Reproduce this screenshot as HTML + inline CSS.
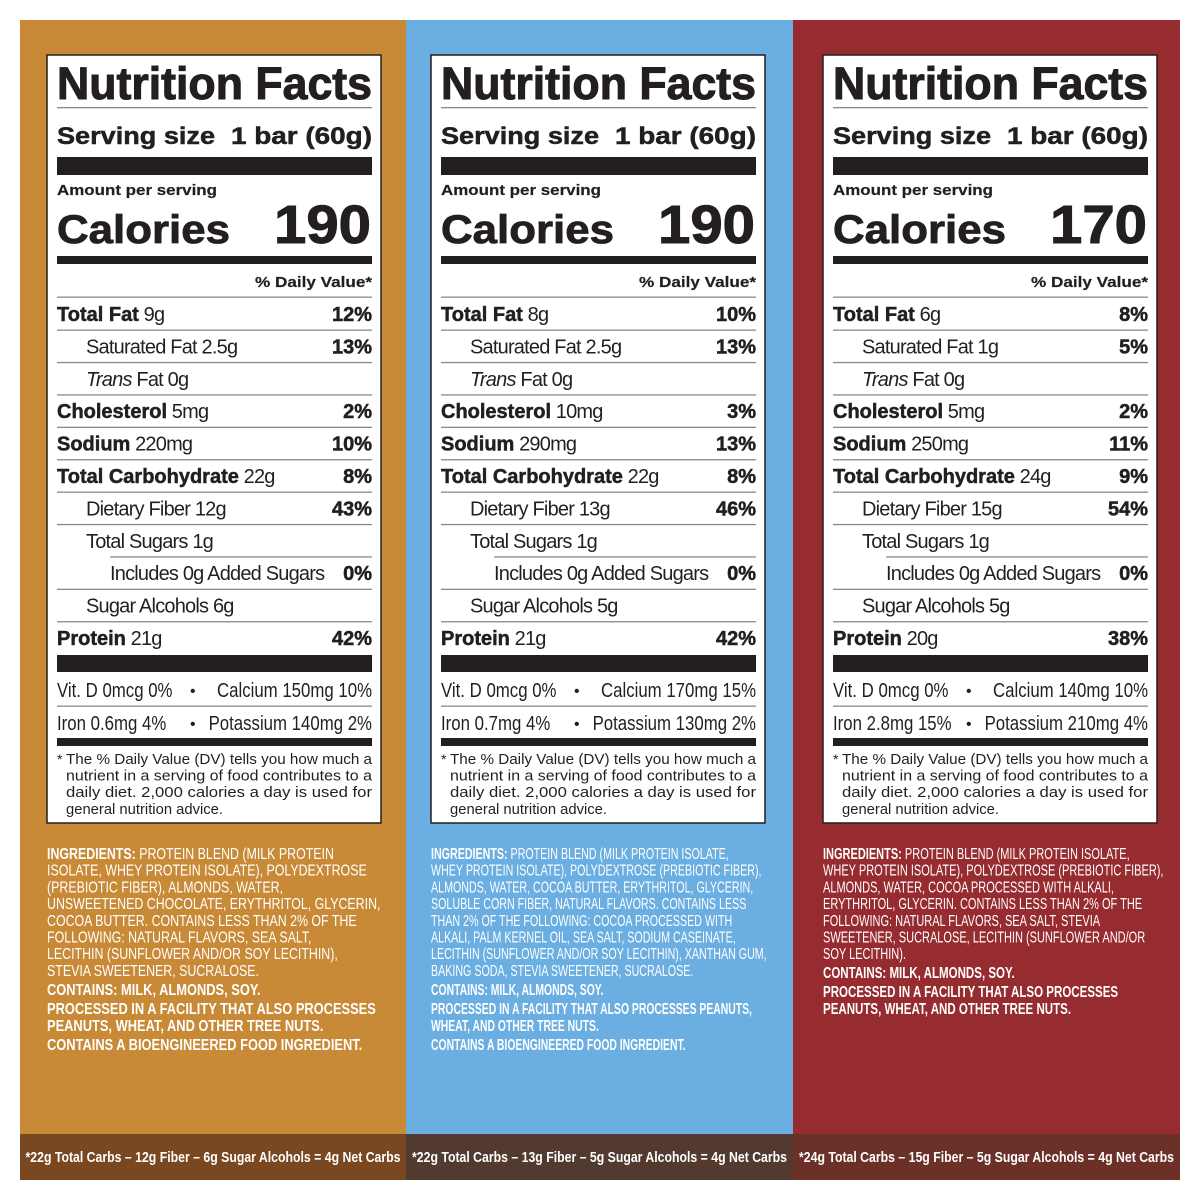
<!DOCTYPE html>
<html><head><meta charset="utf-8"><style>
html,body{margin:0;padding:0;background:#fff;width:1200px;height:1200px;overflow:hidden}
svg{display:block}
</style></head><body>
<svg id="root" width="1200" height="1200" viewBox="0 0 1200 1200" xmlns="http://www.w3.org/2000/svg" font-family="'Liberation Sans', sans-serif"></svg>
<script>
const NS='http://www.w3.org/2000/svg';
const root=document.getElementById('root');
const panelX=[20,406,793];
const panelW=[386,387,387];
const panelColors=['#C98A37','#6BAEE2','#962B30'];
const footColors=['#7A4820','#523A2F','#6B3129'];
const calories=['190','190','170'];
const rowNames=['Total Fat','Saturated Fat','Trans Fat','Cholesterol','Sodium','Total Carbohydrate','Dietary Fiber','Total Sugars','Includes','Sugar Alcohols','Protein'];
const rowBold=[1,0,0,1,1,1,0,0,0,0,1];
const rowIndent=[0,1,1,0,0,0,1,1,2,1,0];
const amounts=[
 ['9g','2.5g','0g','5mg','220mg','22g','12g','1g','0g Added Sugars','6g','21g'],
 ['8g','2.5g','0g','10mg','290mg','22g','13g','1g','0g Added Sugars','5g','21g'],
 ['6g','1g','0g','5mg','250mg','24g','15g','1g','0g Added Sugars','5g','20g']];
const pcts=[
 ['12%','13%','','2%','10%','8%','43%','','0%','','42%'],
 ['10%','13%','','3%','13%','8%','46%','','0%','','42%'],
 ['8%','5%','','2%','11%','9%','54%','','0%','','38%']];
const vitLeft=[['Vit. D 0mcg 0%','Iron 0.6mg 4%'],['Vit. D 0mcg 0%','Iron 0.7mg 4%'],['Vit. D 0mcg 0%','Iron 2.8mg 15%']];
const vitRight=[['Calcium 150mg 10%','Potassium 140mg 2%'],['Calcium 170mg 15%','Potassium 130mg 2%'],['Calcium 140mg 10%','Potassium 210mg 4%']];
const ingredients=[
 ['PROTEIN BLEND (MILK PROTEIN','ISOLATE, WHEY PROTEIN ISOLATE), POLYDEXTROSE','(PREBIOTIC FIBER), ALMONDS, WATER,','UNSWEETENED CHOCOLATE, ERYTHRITOL, GLYCERIN,','COCOA BUTTER. CONTAINS LESS THAN 2% OF THE','FOLLOWING: NATURAL FLAVORS, SEA SALT,','LECITHIN (SUNFLOWER AND/OR SOY LECITHIN),','STEVIA SWEETENER, SUCRALOSE.'],
 ['PROTEIN BLEND (MILK PROTEIN ISOLATE,','WHEY PROTEIN ISOLATE), POLYDEXTROSE (PREBIOTIC FIBER),','ALMONDS, WATER, COCOA BUTTER, ERYTHRITOL, GLYCERIN,','SOLUBLE CORN FIBER, NATURAL FLAVORS. CONTAINS LESS','THAN 2% OF THE FOLLOWING: COCOA PROCESSED WITH','ALKALI, PALM KERNEL OIL, SEA SALT, SODIUM CASEINATE,','LECITHIN (SUNFLOWER AND/OR SOY LECITHIN), XANTHAN GUM,','BAKING SODA, STEVIA SWEETENER, SUCRALOSE.'],
 ['PROTEIN BLEND (MILK PROTEIN ISOLATE,','WHEY PROTEIN ISOLATE), POLYDEXTROSE (PREBIOTIC FIBER),','ALMONDS, WATER, COCOA PROCESSED WITH ALKALI,','ERYTHRITOL, GLYCERIN. CONTAINS LESS THAN 2% OF THE','FOLLOWING: NATURAL FLAVORS, SEA SALT, STEVIA','SWEETENER, SUCRALOSE, LECITHIN (SUNFLOWER AND/OR','SOY LECITHIN).']];
const boldLines=[
 ['CONTAINS: MILK, ALMONDS, SOY.','PROCESSED IN A FACILITY THAT ALSO PROCESSES','PEANUTS, WHEAT, AND OTHER TREE NUTS.','CONTAINS A BIOENGINEERED FOOD INGREDIENT.'],
 ['CONTAINS: MILK, ALMONDS, SOY.','PROCESSED IN A FACILITY THAT ALSO PROCESSES PEANUTS,','WHEAT, AND OTHER TREE NUTS.','CONTAINS A BIOENGINEERED FOOD INGREDIENT.'],
 ['CONTAINS: MILK, ALMONDS, SOY.','PROCESSED IN A FACILITY THAT ALSO PROCESSES','PEANUTS, WHEAT, AND OTHER TREE NUTS.']];
const boldGaps=[19,19,17,19];
const netCarbs=['*22g Total Carbs – 12g Fiber – 6g Sugar Alcohols = 4g Net Carbs','*22g Total Carbs – 13g Fiber – 5g Sugar Alcohols = 4g Net Carbs','*24g Total Carbs – 15g Fiber – 5g Sugar Alcohols = 4g Net Carbs'];
const labelX=[47,431,823];
const ingScale=[0.8,0.69,0.71];
const boldScale=[0.83,0.67,0.745];

function el(tag,attrs,parent){const e=document.createElementNS(NS,tag);for(const k in attrs)e.setAttribute(k,attrs[k]);(parent||root).appendChild(e);return e;}
function txt(x,y,s,attrs,parent){const e=el('text',Object.assign({x:x,y:y},attrs||{}),parent);e.textContent=s;return e;}
function squeeze(t,f){const w=t.getComputedTextLength();t.setAttribute('textLength',(w*f).toFixed(1));t.setAttribute('lengthAdjust','spacingAndGlyphs');}

for(let p=0;p<3;p++){
 const g=el('g',{});
 
 
 const bg=el('rect',{x:panelX[p],y:20,width:panelW[p],height:1114,fill:panelColors[p]},g);
 
 
 const x0=labelX[p], L=x0+10, R=x0+325;
 const lab=el('g',{},g);
 
 
 el('rect',{x:x0,y:55,width:334,height:768,fill:'#fff',stroke:'#231f20','stroke-width':1.5},lab);
 const B={fill:'#231f20','font-weight':'bold',stroke:'#231f20','stroke-width':0.5};
 const t1=txt(L,99,'Nutrition Facts',Object.assign({},B,{'font-size':45,textLength:315,lengthAdjust:'spacingAndGlyphs','stroke-width':1}),lab);
 
 
 el('rect',{x:L,y:107,width:315,height:1.3,fill:'#888'},lab);
 txt(L,144,'Serving size',Object.assign({},B,{'font-size':24,textLength:158,lengthAdjust:'spacingAndGlyphs'}),lab);
 txt(R,144,'1 bar (60g)',Object.assign({},B,{'font-size':24,'text-anchor':'end',textLength:141,lengthAdjust:'spacingAndGlyphs'}),lab);
 el('rect',{x:L,y:157,width:315,height:18,fill:'#231f20'},lab);
 txt(L,195,'Amount per serving',Object.assign({},B,{'font-size':14.5,textLength:160,lengthAdjust:'spacingAndGlyphs','stroke-width':0.2}),lab);
 txt(L,243,'Calories',Object.assign({},B,{'font-size':40,textLength:173,lengthAdjust:'spacingAndGlyphs','stroke-width':0.8}),lab);
 const cal=txt(R-1,243,calories[p],Object.assign({},B,{'font-size':54,'text-anchor':'end',textLength:97,lengthAdjust:'spacingAndGlyphs','stroke-width':1}),lab);
 
 
 el('rect',{x:L,y:256,width:315,height:8,fill:'#231f20'},lab);
 txt(R,287,'% Daily Value*',Object.assign({},B,{'font-size':15,'text-anchor':'end',textLength:117,lengthAdjust:'spacingAndGlyphs','stroke-width':0.2}),lab);
 el('rect',{x:L,y:296.5,width:315,height:1.3,fill:'#888'},lab);
 const ind=[0,29,53];
 for(let i=0;i<rowNames.length;i++){
  const y=321+i*32.4;
  const row=txt(L+ind[rowIndent[i]],y,'',{'font-size':20,fill:'#231f20'},lab);
  
  
  const n=el('tspan',{},row);
  if(rowBold[i]){n.setAttribute('font-weight','bold');n.setAttribute('stroke','#231f20');n.setAttribute('stroke-width','0.5');}
  if(rowNames[i]==='Trans Fat'){n.setAttribute('font-style','italic');n.setAttribute('letter-spacing','-0.8');n.textContent='Trans';}
  else{ if(!rowBold[i]) n.setAttribute('letter-spacing','-0.8'); n.textContent=rowNames[i];}
  const a=el('tspan',{'letter-spacing':'-0.8'},row);
  a.textContent=(rowNames[i]==='Trans Fat'?' Fat ':' ')+amounts[p][i];
  if(pcts[p][i]) txt(R,y,pcts[p][i],Object.assign({},B,{'font-size':20,'text-anchor':'end'}),lab);
  if(i<rowNames.length-1){
   const ls=(i===7)?L+ind[2]:L;
   el('rect',{x:ls,y:329.5+i*32.4,width:R-ls,height:1.3,fill:'#888'},lab);
  }
 }
 el('rect',{x:L,y:655,width:315,height:17,fill:'#231f20'},lab);
 for(let j=0;j<2;j++){
  const y=697+j*33;
  const lt=txt(L,y,vitLeft[p][j],{'font-size':20,fill:'#231f20'},lab);
  squeeze(lt,0.84);
  txt(x0+143,y-1,'•',{'font-size':16,fill:'#231f20'},lab);
  const rt=txt(R,y,vitRight[p][j],{'font-size':20,fill:'#231f20','text-anchor':'end'},lab);
  squeeze(rt,0.84);
 }
 el('rect',{x:L,y:705.5,width:315,height:1.3,fill:'#888'},lab);
 el('rect',{x:L,y:738,width:315,height:8,fill:'#231f20'},lab);
 const fn=['The % Daily Value (DV) tells you how much a','nutrient in a serving of food contributes to a','daily diet. 2,000 calories a day is used for','general nutrition advice.'];
 txt(L,764,'*',{'font-size':14,fill:'#231f20'},lab);
 for(let k=0;k<4;k++){
  const at={'font-size':15,fill:'#231f20'};
  if(k<3){at.textLength=306;at.lengthAdjust='spacingAndGlyphs';} else {at.textLength=157;at.lengthAdjust='spacingAndGlyphs';}
  txt(L+9,764+k*16.6,fn[k],at,lab);
 }
 const ig=el('g',{transform:'translate('+x0+',0) scale('+ingScale[p]+',1)'},g);
 
 
 for(let k=0;k<ingredients[p].length;k++){
  const t=txt(0,859+k*16.7,'',{'font-size':15.5,fill:'#fff'},ig);
  if(k===0){const b=el('tspan',{'font-weight':'bold'},t);b.textContent='INGREDIENTS: ';}
  const r=el('tspan',{},t);r.textContent=ingredients[p][k];
 }
 let by=859+(ingredients[p].length-1)*16.7;
 const bg2=el('g',{transform:'translate('+x0+',0) scale('+boldScale[p]+',1)'},g);
 
 
 for(let k=0;k<boldLines[p].length;k++){
  by+=boldGaps[k];
  txt(0,by,boldLines[p][k],{'font-size':15.5,'font-weight':'bold',fill:'#fff'},bg2);
 }
 const fr=el('rect',{x:panelX[p],y:1134,width:panelW[p],height:46,fill:footColors[p]},g);
 
 
 const ft=txt(panelX[p]+panelW[p]/2,1162,netCarbs[p],{'font-size':14.5,'font-weight':'bold',fill:'#fff','text-anchor':'middle',textLength:375,lengthAdjust:'spacingAndGlyphs'},g);
 
 
}
</script>
</body></html>
